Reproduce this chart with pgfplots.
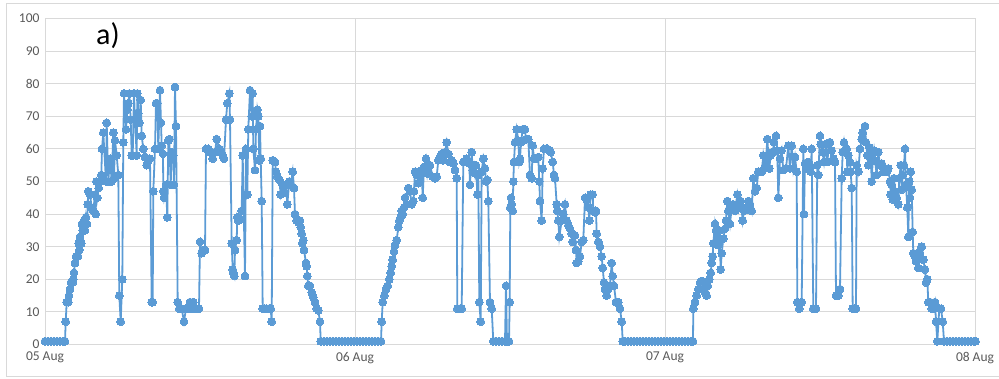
\documentclass[border=0pt]{standalone}
\usepackage{fontspec}
\setmainfont{Carlito}
\usepackage{pgfplots}
\usepackage{pgfplotstable}
\pgfplotsset{compat=1.18}
\definecolor{excelblue}{HTML}{5B9BD5}
\definecolor{gridgray}{HTML}{D9D9D9}
\definecolor{labelgray}{HTML}{595959}

\pgfplotstableread{
px val
45 1
48 1
51 1
54 1
57 1
60 1
63 1
65 1
65.7 7
66.7 13
68.3 13
69 15
70 17
71 19
72.7 19
73.3 20
74 22
75 25
76 27
78 27
78.7 31
79.3 29
80 33
81.3 31
82 37
82.7 35
84 38
85 35
86 39
87 37
87.7 43
88.3 47
90 46
91.7 42
93.3 41
95 46
95.7 40
96.3 50
97.3 45
98.7 48
100 50
101.3 52
102 60
103.3 65
106 50
106.7 68
108.3 50
110 57
111.7 50
113.3 65
114 51
115 62.6
116.7 58
118.3 52
119.3 15
120.7 7
122.3 20
123.3 62
124 77
126 66
127.3 72
128.3 74
129.3 77
130.7 69
131.7 58
132.7 58
134 77
135 69
136.7 58
137.3 77
138.3 71
139.3 68
140.7 75
141.7 64
143.3 60
145 57.5
146.7 55
148.3 56.5
150 57
151.7 13
152.7 13
153.3 47
155 60
156 74
157.3 74
158.3 60
160 78
161 68
161.7 61
163 58.5
163.3 47
164 45
166 49
167.3 39
168.3 62.6
169.3 63
170.7 49
171.7 59
173.3 58
174 49
175 79
176 67
177.7 13
179.3 11
181.7 11
184 7
186 11
188.3 11
190 13
191.7 11
193.3 13
195 11
196.7 11
199 11
200 31.5
201.7 28
203.3 29
205 29
206 60
208.3 60
210 59
212.7 57
215 59
216.7 63
219.3 60
220.7 59
222.7 58
224 57
226 69
227.3 74
229.3 77
230 69
231.7 31
232.7 23
233.3 22
234.3 21
235 29
236.7 32
237.3 39
238.3 38
240 38.5
241.7 41
242.7 58
245 21
246 60
247.3 46
248.3 66
250 78
251.7 70
252.7 77
253.3 60
255 53.5
256 66
257.3 72
258.3 70
259.3 56.5
260 67
260.7 57
261.7 44
262.7 11
265 11
266.7 11
269 11
270.7 11
271.7 7
272.7 56.5
275 56
276 53
277.3 51.5
279.3 50.5
280.7 46
282.7 49
284 46.5
286 49
287.3 43
289.3 50
290.7 49
292.7 53
294 48
295 40
296.7 38
298.3 37.5
300 38
300.7 36
301.7 34
302.3 31
303.3 32
304 29
306 25
306.7 24
307.3 21
308.3 18
310 18
311.7 16
313.3 14.5
315 13
316.7 11
318.3 10.5
320 7
320.7 1
324 1
327 1
330 1
333 1
336 1
339 1
342 1
345 1
348 1
351 1
354 1
357 1
360 1
363 1
366 1
369 1
372 1
375 1
378 1
381 1
381.7 7
382.7 13
384.3 15
386 17
387.7 18
389.3 20
390.7 22
391.7 24
392.7 26
394 28.5
395 30.5
396.7 32
398.3 36
399.3 38
400.7 39
401.7 41
402.7 40
404 42
405 45
406.7 43
408.3 48
410 47
411.7 43
413.3 44
414 47
415 53
416.7 52
418.3 49.5
420 51.5
421.7 53.5
422.7 45
424 54.5
426 57
427.3 52.5
428.3 54.5
430 55
432.7 51.5
435 51
436.7 51.5
438.3 56.5
440 57.5
441.7 58.5
443.3 56.5
445 59
446.7 62
448.3 58.5
450 56
451.7 56.5
453.3 55.5
455 53.5
456.7 51
457.3 11
460 11
461.7 11
463.3 56
465 56
466.7 57
469.3 55.5
470 49
471.7 59
472.7 53.5
474 55
475 52.5
476 55
477.3 46
478.3 52
479.3 13
480.7 7
481.7 53
483.3 57
485 54
486 50
487.3 50.5
488.3 44
490 13
491.7 11
493.3 1
496 1
499 1
502 1
505 1
506 18
507 1
509 1
509.7 13
510.3 42
511 45
511.7 43
512.7 41
513.3 50
514 56
515 62
516.7 66
518.3 62.5
519.3 56
520 57
521 62
522.7 66
525 66
526 63
528.3 63
530 52
531.7 51
532.7 61
534 57
536 57
538.3 57.5
539.3 50
540 44
541.7 38
542.7 54
544 60
546 60
547.3 60
549.3 59.5
550.7 59
552.7 56
554 52
555 51
556.7 43
557.3 41
558.3 38
559.3 33
561.7 38
563.3 40
565 43
566.7 38
568.3 36.5
570 35.5
571.7 34
572.7 31.5
575 33.5
576 29
576.7 25
578.3 25.5
580 27
581.7 31.5
583.3 32
585 45
586.7 44.5
588.3 42
589.3 38
590.7 46
592.7 46
593.3 41
595 40.5
596 41
596.7 34
598.3 31.5
600 30
601.7 27
602.7 23.5
604 19
605 17
606.7 15
608.3 17
610 18
611.7 25
612.7 21
614 18
616 13
618.3 13
620 11
621.7 7
622.7 1
625 1
628 1
631 1
634 1
637 1
640 1
643 1
646 1
649 1
652 1
655 1
658 1
661 1
664 1
667 1
670 1
673 1
676 1
679 1
682 1
685 1
688 1
691 1
693 1
693.3 11
695 13
696.7 15
698.3 17
700 19
701.7 19.5
703.3 17
705 16
706.7 15
707.7 18
709.3 20
710.7 22
711.7 25
712.7 27
713.3 31
715 37
716 35
717.3 32.5
718.3 30.5
719.3 35
720.7 23
721.7 28
723.3 32.5
725 35.5
726 38
727.3 44
728.3 41
730 37
731.7 42
733.3 43
735 41
737.3 46
739.3 42
740.7 44
742.7 38
744 41
746 42
748.3 44
750 43
751.7 41
753.3 51
755 47
756.7 48
758.3 53
760 53
761.7 53
763.3 58
765 54.5
766 56.5
767.3 63
769.3 54
770.7 58
772.7 59
774 62
776 64
777.3 59.5
778.3 45
780 57
781.7 59.5
783.3 53.5
786 54
788.3 61
790 54
791.7 61
793.3 54
795 57.5
796.7 53
797.3 13
799.3 11
801.7 13
803.3 60
804 40
805 55.5
806.7 54
808.3 56
810 55
810.7 53
811.7 60
813.3 11
816 11
817.3 55
818.3 52
820 64
820.7 61.5
822.7 59
824 56
826 61.5
827.3 56
829.3 62
830 62
831.7 59.5
833.3 57
835 56
836 15
838.3 15
840 17
841.7 51
842.7 59
844 62
845 59.5
846.7 60
847.3 53
848.3 58
850 56
850.7 53
851.7 48
852.7 11
854 11
856 11
856.7 55
858.3 53
860 60
861.7 63
862.7 65
865 67
866 62
867.3 58
868.3 55
869.3 60.5
870.7 58.5
871.7 50
872.7 56.5
874 59.5
875 56.5
876.7 52
878.3 59
880 55
881.7 55.5
883.3 53
885 54
886.7 53
888.3 54
890 50
890.7 46
891.7 49
892.7 44.5
894 51
895 47
896.7 45
898.3 43
899.3 51
900.7 55
901.7 47.5
902.7 52
904 55
905 60
906 49
907.3 42
908.3 33
909.3 50
910 45
910.7 53
911.7 47.5
912.7 34.5
913.3 28
915 27
916 25.5
917.3 28
918.3 23.5
920 28
921.7 30
923.3 26
925 23
926 19
927.3 20
928.3 13
930 13
931.7 11
933.3 11
935 13
936 7
937.3 1
939.3 11
941 11
942.7 7
944 1
947 1
950 1
953 1
956 1
959 1
962 1
965 1
968 1
971 1
974 1
975.5 1
}\data

\begin{document}
\begin{tikzpicture}
\useasboundingbox (0,0) rectangle (999pt,378pt);
\draw[gridgray, line width=1pt] (1010pt,374.7pt) -- (6.7pt,374.7pt) -- (6.7pt,2pt) -- (1010pt,2pt);
\begin{axis}[
  at={(45pt,33.5pt)}, anchor=south west,
  scale only axis, width=930pt, height=326pt,
  xmin=0, xmax=3, ymin=0, ymax=100,
  xtick={0,1,2,3}, xticklabels={05 Aug,06 Aug,07 Aug,08 Aug},
  ytick={0,10,...,100},
  grid=major, major grid style={gridgray, line width=1pt},
  axis line style={draw=none},
  tick style={draw=none},
  ticklabel style={font=\fontsize{13.5}{16}\selectfont, text=labelgray},
  /pgf/number format/assume math mode=true,
  yticklabel style={xshift=-2pt},
  xticklabel style={yshift=-4pt},
  clip=false,
]
\addplot[excelblue, line width=1.8pt, mark=*, mark size=3.9pt,
  mark options={fill=excelblue, draw=excelblue, line width=0pt}]
  table[x expr={(\thisrowno{0}-45)/310}, y index=1] {\data};
\end{axis}
\node[anchor=base west, inner sep=0pt, font=\fontsize{30}{34}\selectfont, text=black] at (96pt,333pt) {a)};
\end{tikzpicture}
\end{document}
